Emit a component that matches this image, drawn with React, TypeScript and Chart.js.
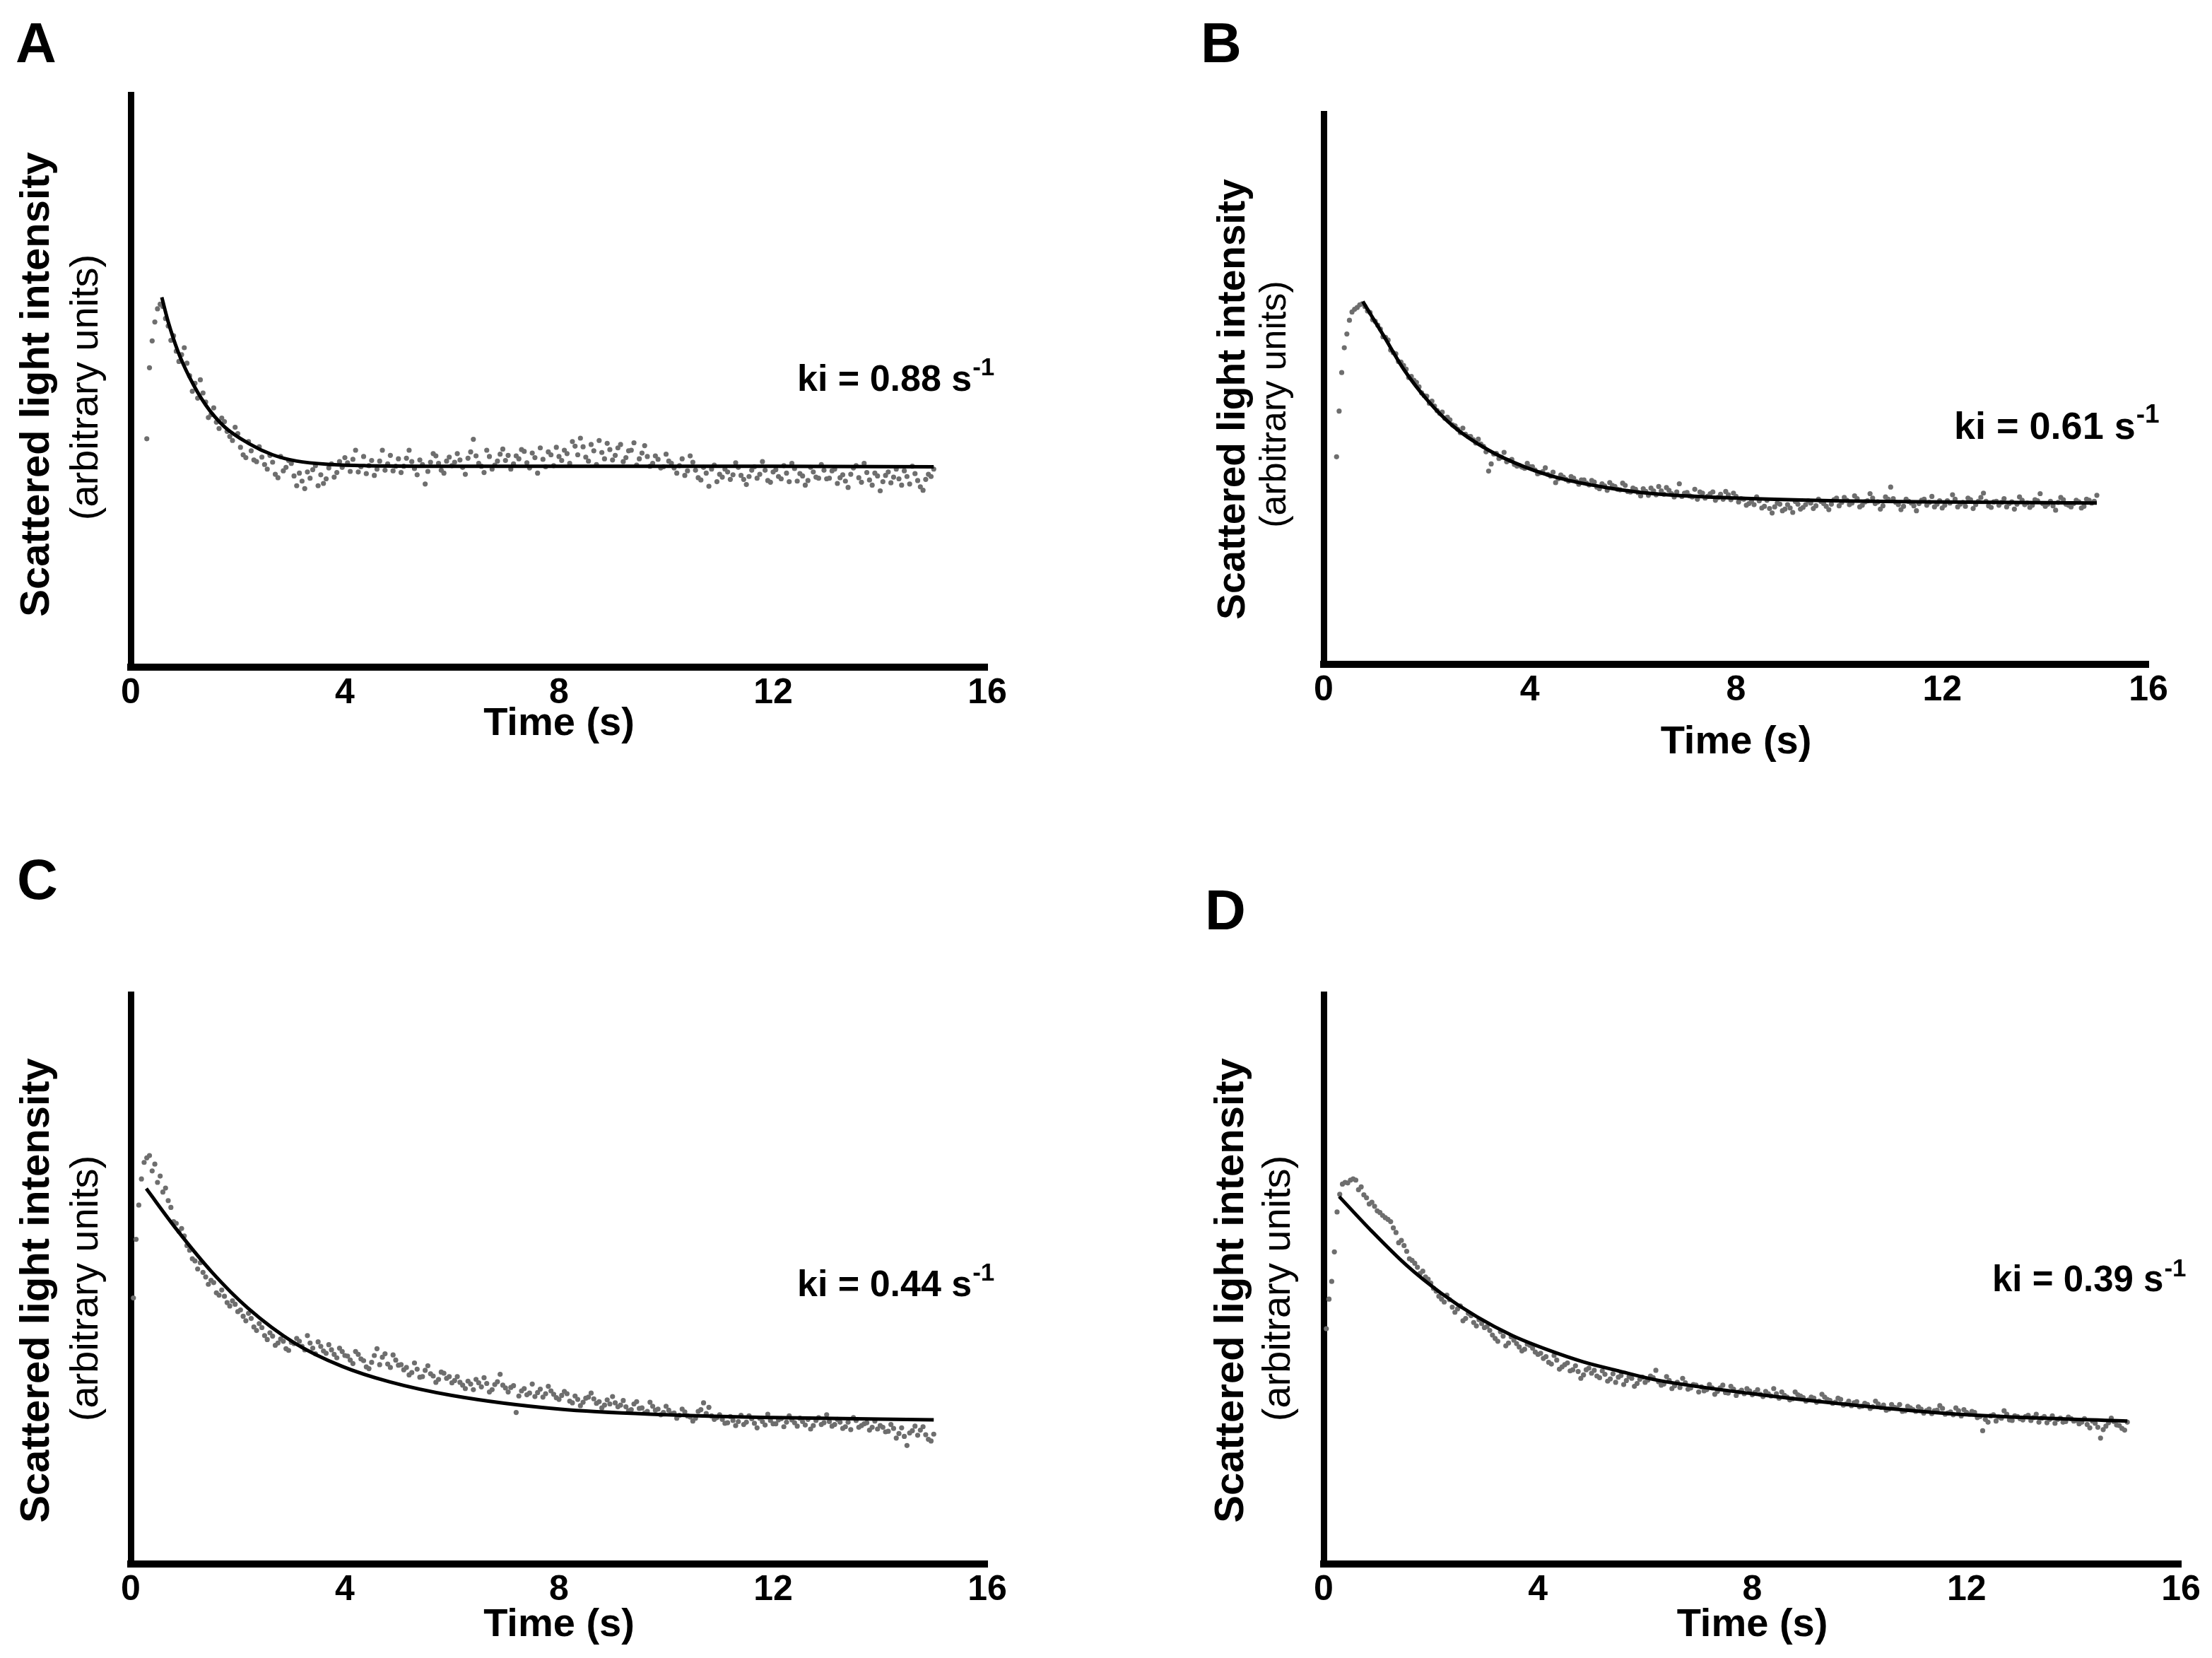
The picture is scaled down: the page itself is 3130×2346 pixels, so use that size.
import { useEffect, useRef } from 'react';
import { Chart, registerables } from 'chart.js';

Chart.register(...registerables);

const FONT = "'Liberation Sans', Arial, Helvetica, sans-serif";

// sampling times (s) shared by the four traces
const TIME = [
  0.05, 0.1, 0.15, 0.2, 0.25, 0.3, 0.35, 0.4, 0.45, 0.5, 0.55, 0.6, 0.65, 0.7, 0.75, 0.8, 0.85, 0.9, 0.95, 1.0,
  1.05, 1.1, 1.15, 1.2, 1.25, 1.3, 1.35, 1.4, 1.45, 1.5, 1.55, 1.6, 1.65, 1.7, 1.75, 1.8, 1.85, 1.9, 1.95, 2.0,
  2.05, 2.1, 2.15, 2.2, 2.25, 2.3, 2.35, 2.4, 2.45, 2.5, 2.55, 2.6, 2.65, 2.7, 2.75, 2.8, 2.85, 2.9, 2.95, 3.0,
  3.05, 3.1, 3.15, 3.2, 3.25, 3.3, 3.35, 3.4, 3.45, 3.5, 3.55, 3.6, 3.65, 3.7, 3.75, 3.8, 3.85, 3.9, 3.95, 4.0,
  4.05, 4.1, 4.15, 4.2, 4.25, 4.3, 4.35, 4.4, 4.45, 4.5, 4.55, 4.6, 4.65, 4.7, 4.75, 4.8, 4.85, 4.9, 4.95, 5.0,
  5.05, 5.1, 5.15, 5.2, 5.25, 5.3, 5.35, 5.4, 5.45, 5.5, 5.55, 5.6, 5.65, 5.7, 5.75, 5.8, 5.85, 5.9, 5.95, 6.0,
  6.05, 6.1, 6.15, 6.2, 6.25, 6.3, 6.35, 6.4, 6.45, 6.5, 6.55, 6.6, 6.65, 6.7, 6.75, 6.8, 6.85, 6.9, 6.95, 7.0,
  7.05, 7.1, 7.15, 7.2, 7.25, 7.3, 7.35, 7.4, 7.45, 7.5, 7.55, 7.6, 7.65, 7.7, 7.75, 7.8, 7.85, 7.9, 7.95, 8.0,
  8.05, 8.1, 8.15, 8.2, 8.25, 8.3, 8.35, 8.4, 8.45, 8.5, 8.55, 8.6, 8.65, 8.7, 8.75, 8.8, 8.85, 8.9, 8.95, 9.0,
  9.05, 9.1, 9.15, 9.2, 9.25, 9.3, 9.35, 9.4, 9.45, 9.5, 9.55, 9.6, 9.65, 9.7, 9.75, 9.8, 9.85, 9.9, 9.95, 10.0,
  10.05, 10.1, 10.15, 10.2, 10.25, 10.3, 10.35, 10.4, 10.45, 10.5, 10.55, 10.6, 10.65, 10.7, 10.75, 10.8, 10.85, 10.9, 10.95, 11.0,
  11.05, 11.1, 11.15, 11.2, 11.25, 11.3, 11.35, 11.4, 11.45, 11.5, 11.55, 11.6, 11.65, 11.7, 11.75, 11.8, 11.85, 11.9, 11.95, 12.0,
  12.05, 12.1, 12.15, 12.2, 12.25, 12.3, 12.35, 12.4, 12.45, 12.5, 12.55, 12.6, 12.65, 12.7, 12.75, 12.8, 12.85, 12.9, 12.95, 13.0,
  13.05, 13.1, 13.15, 13.2, 13.25, 13.3, 13.35, 13.4, 13.45, 13.5, 13.55, 13.6, 13.65, 13.7, 13.75, 13.8, 13.85, 13.9, 13.95, 14.0,
  14.05, 14.1, 14.15, 14.2, 14.25, 14.3, 14.35, 14.4, 14.45, 14.5, 14.55, 14.6, 14.65, 14.7, 14.75, 14.8, 14.85, 14.9, 14.95, 15.0,
];

// scattered light (arbitrary units, 0 = x axis, 100 = top of y axis)
const A_SIGNAL = [
  null, null, null, null, null, 39.9, 52.3, 57.0, 60.3, 62.6, 63.4, 63.0, 60.9, 59.6, 57.1, 57.9, 55.2, 53.4, 54.6, 55.8,
  53.1, 50.9, 48.2, 49.6, 47.0, 50.2, 47.9, 46.3, 43.6, 44.1, 45.3, 42.8, 41.7, 43.5, 42.9, 41.2, 40.3, 39.6, 41.9, 40.8,
  38.4, 37.1, 36.6, 39.4, 37.8, 36.2, 35.9, 38.5, 36.7, 35.4, 34.6, 37.0, 35.8, 33.7, 33.1, 36.8, 34.3, 34.9, 36.1, 35.6,
  33.4, 31.7, 33.9, 32.5, 31.2, 34.1, 33.0, 34.5, 35.2, 31.7, 33.6, 32.1, 32.9, 34.8, 35.5, 33.2, 34.0, 35.9, 34.9, 36.6,
  35.7, 34.2, 36.3, 37.9, 34.1, 35.0, 36.8, 33.8, 35.2, 36.1, 33.5, 34.6, 36.0, 37.9, 34.4, 35.5, 37.0, 34.3, 35.1, 36.4,
  34.0, 35.1, 36.5, 37.9, 35.9, 34.7, 33.6, 36.2, 35.4, 32.0, 34.2, 35.8, 37.3, 36.9, 35.6, 34.4, 33.9, 36.0, 36.7, 35.2,
  35.8, 37.3, 36.2, 34.9, 33.7, 36.5, 37.6, 39.8, 36.9, 35.6, 35.1, 34.0, 37.9, 36.8, 34.6, 35.3, 36.0, 37.2, 38.1, 36.1,
  37.0, 34.6, 35.5, 36.9, 36.4, 38.0, 37.7, 35.7, 34.8, 37.4, 36.6, 33.9, 38.3, 36.3, 35.0, 37.6, 37.1, 35.2, 38.4, 36.8,
  36.1, 37.9, 37.3, 35.6, 39.4, 38.6, 37.1, 40.0, 38.5, 36.7, 36.0, 38.9, 37.8, 35.4, 39.6, 37.5, 36.4, 39.1, 38.0, 36.2,
  37.0, 38.3, 38.9, 35.9, 36.6, 37.8, 37.9, 39.2, 35.3, 36.4, 37.4, 38.7, 36.8, 35.1, 35.6, 36.9, 36.3, 34.8, 35.0, 37.2,
  36.0, 35.6, 34.8, 33.9, 35.2, 36.4, 33.5, 34.3, 36.9, 35.8, 34.4, 33.1, 32.7, 34.9, 33.9, 31.6, 34.6, 35.3, 32.4, 33.7,
  33.2, 34.6, 34.1, 32.8, 33.6, 35.7, 34.9, 33.5, 32.8, 31.9, 33.3, 34.4, 35.0, 33.0, 33.7, 35.9, 34.4, 32.6, 32.3, 34.1,
  34.5, 33.3, 32.9, 35.2, 33.9, 32.4, 35.6, 34.7, 32.5, 33.8, 33.4, 31.8, 32.6, 34.9, 34.1, 33.2, 33.0, 35.4, 34.4, 32.9,
  33.0, 34.3, 34.6, 32.1, 33.1, 33.6, 32.5, 31.4, 33.7, 34.8, 35.2, 33.1, 32.3, 35.6, 34.0, 32.7, 31.8, 33.9, 33.4, 30.8,
  32.4, 33.5, 34.1, 32.2, 33.2, 34.6, 32.9, 31.8, 34.3, 33.3, 32.0, 35.1, 33.8, 32.6, 31.5, 30.9, 32.8, 33.7, 33.3, 34.6,
];

const B_SIGNAL = [
  null, null, null, null, 37.7, 46.0, 53.0, 57.5, 60.0, 62.5, 64.0, 64.5, 64.8, 65.3, 65.5, 65.0, 64.2, 63.9, 62.6, 62.3,
  61.6, 60.9, 59.5, 59.4, 58.9, 57.1, 56.6, 56.4, 55.0, 54.9, 54.3, 53.6, 52.1, 52.3, 51.6, 51.2, 50.4, 49.3, 48.8, 48.7,
  47.4, 47.8, 46.9, 46.1, 45.6, 45.8, 44.7, 44.9, 44.4, 43.5, 43.3, 42.7, 42.1, 42.9, 41.8, 41.4, 41.4, 40.8, 40.2, 40.9,
  40.0, 39.6, 38.6, 35.1, 36.4, 38.2, 38.3, 37.4, 37.6, 38.5, 36.8, 37.0, 37.2, 36.3, 36.0, 36.1, 35.8, 35.6, 36.5, 35.9,
  35.9, 35.3, 34.6, 34.8, 35.0, 35.7, 34.5, 34.2, 34.9, 33.0, 33.7, 34.4, 34.0, 33.6, 33.3, 34.1, 33.8, 33.2, 32.7, 33.5,
  33.5, 32.9, 32.6, 33.4, 33.1, 32.2, 31.9, 32.8, 32.4, 31.6, 33.0, 32.5, 32.3, 31.8, 31.7, 32.9, 32.5, 31.4, 31.3, 32.0,
  31.8, 31.2, 30.6, 31.9, 31.4, 30.7, 32.0, 31.5, 30.8, 32.3, 31.5, 30.9, 32.1, 31.6, 31.0, 30.4, 31.3, 32.8, 30.5, 31.1,
  31.2, 30.6, 30.4, 31.8, 30.0, 31.3, 31.1, 30.2, 30.5, 31.0, 31.3, 29.8, 30.3, 30.9, 30.0, 31.4, 30.8, 29.9, 31.1, 30.5,
  29.5, 30.1, 30.0, 28.9, 29.2, 29.6, 29.0, 30.4, 29.7, 28.4, 28.7, 29.8, 28.3, 27.5, 28.6, 29.3, 29.1, 27.9, 28.2, 29.0,
  28.4, 27.6, 29.6, 29.1, 28.2, 28.5, 29.0, 29.7, 29.3, 28.3, 28.8, 30.0, 29.6, 29.2, 28.7, 28.1, 29.1, 29.9, 30.2, 28.8,
  29.4, 30.3, 29.8, 29.0, 29.3, 30.6, 30.1, 28.6, 28.9, 29.5, 29.7, 31.0, 30.2, 29.2, 29.5, 28.2, 28.8, 30.4, 30.0, 32.2,
  30.1, 29.4, 29.0, 28.1, 28.7, 30.0, 29.6, 29.3, 28.8, 27.9, 29.2, 29.8, 30.0, 28.9, 29.4, 30.5, 28.6, 29.1, 29.7, 28.4,
  28.9, 29.7, 29.3, 30.8, 30.0, 28.6, 29.1, 29.4, 28.7, 30.2, 29.9, 28.3, 29.0, 29.6, 30.3, 31.1, 29.6, 28.8, 28.5, 29.5,
  29.6, 28.9, 29.4, 30.1, 28.6, 29.2, 29.5, 28.2, 29.1, 30.4, 29.8, 29.0, 29.3, 28.5, 28.9, 29.9, 29.7, 31.0, 29.2, 28.7,
  29.1, 29.6, 28.8, 28.0, 29.4, 30.3, 29.9, 29.1, 28.9, 28.6, 29.2, 29.8, 29.5, 28.4, 28.7, 30.0, 29.8, 29.3, 29.6, 30.7,
];

const C_SIGNAL = [
  46.7, 57.0, 63.0, 67.6, 70.5, 71.3, 71.7, 69.0, 70.2, 67.0, 68.1, 65.3, 66.0, 63.8, 62.6, 60.1, 59.8, 58.4, 58.9, 57.6,
  55.9, 55.1, 53.6, 53.2, 51.8, 52.9, 51.2, 50.4, 49.1, 49.8, 49.4, 47.6, 47.2, 48.1, 47.0, 45.9, 45.3, 46.2, 45.6, 44.3,
  44.6, 43.5, 42.7, 44.0, 43.1, 41.6, 41.0, 42.2, 41.5, 40.1, 39.4, 40.6, 40.0, 38.4, 38.8, 39.5, 39.1, 37.8, 37.5, 38.9,
  38.7, 39.6, 39.1, 38.2, 37.6, 40.1, 38.8, 37.9, 36.9, 39.0, 38.2, 37.4, 37.0, 38.5, 37.6, 36.8, 36.2, 37.9, 37.3, 36.6,
  36.5, 35.8, 35.2, 37.3, 36.8, 36.0, 35.7, 34.6, 34.3, 35.4, 36.6, 37.8, 35.0, 36.3, 36.9, 35.1, 34.5, 36.7, 35.8, 34.9,
  35.0, 34.1, 34.5, 33.2, 33.6, 35.3, 34.2, 32.8, 32.9, 34.0, 34.8, 33.4, 33.0, 31.9, 32.4, 33.7, 33.5, 32.6, 32.9, 31.8,
  32.2, 32.9, 31.9, 31.4, 30.8, 32.1, 31.6, 30.6, 32.4, 31.8, 31.1, 32.7, 31.7, 30.2, 30.6, 31.5, 32.0, 33.3, 31.4, 30.9,
  30.2, 31.0, 31.3, 26.6, 29.5, 30.4, 30.8, 29.7, 30.0, 31.6, 29.4, 30.1, 30.7, 29.3, 29.9, 31.2, 30.4, 29.8, 29.2, 28.9,
  29.6, 30.3, 29.9, 28.6, 28.3, 29.5, 28.9, 27.8, 28.4, 29.1, 29.3, 30.0, 29.0, 28.2, 28.5, 27.4, 27.9, 28.8, 28.1, 29.4,
  28.3, 27.6, 27.9, 28.7, 27.6, 26.9, 27.1, 28.1, 28.5, 27.3, 27.4, 26.5, 26.8, 28.4, 27.7, 27.0, 27.2, 26.2, 26.6, 27.7,
  27.0, 26.4, 26.5, 25.6, 26.1, 27.2, 26.7, 26.0, 25.8, 25.1, 25.6, 26.8, 27.1, 28.3, 26.4, 27.5, 26.0, 25.4, 25.7, 26.2,
  25.4, 24.7, 24.8, 25.9, 25.2, 24.3, 25.0, 26.1, 24.5, 24.9, 26.0, 25.5, 24.7, 23.9, 25.6, 25.0, 24.4, 26.3, 25.2, 24.6,
  24.6, 25.3, 25.5, 24.1, 24.9, 26.0, 25.3, 24.8, 24.2, 25.6, 25.0, 24.4, 25.4, 23.7, 24.3, 25.2, 25.7, 24.5, 24.8, 26.2,
  25.0, 24.2, 24.5, 25.4, 24.9, 23.8, 24.1, 24.9, 23.6, 25.7, 25.2, 24.0, 24.3, 24.6, 24.8, 23.5, 24.0, 25.1, 23.7, 24.3,
  24.0, 23.2, 23.3, 24.5, 23.8, 22.1, 22.9, 23.9, 22.4, 20.8, 23.0, 23.4, 24.2, 22.6, 23.5, 24.1, 22.7, 21.9, 21.6, 22.8,
];

const D_SIGNAL = [
  41.3, 46.5, 49.6, 54.8, 61.8, 64.9, 66.7, 67.0, 66.9, 67.4, 67.6, 67.4, 65.7, 66.2, 64.8, 64.3, 63.2, 63.5, 62.8, 62.0,
  61.7, 61.2, 60.8, 60.5, 60.1, 59.0, 58.2, 56.4, 56.8, 55.9, 54.9, 53.6, 53.3, 52.8, 52.1, 51.0, 51.4, 50.4, 50.0, 49.3,
  48.4, 47.9, 47.0, 46.5, 46.0, 47.2, 46.4, 45.1, 44.2, 44.8, 45.3, 42.7, 43.1, 44.0, 43.6, 42.4, 41.8, 42.9, 42.2, 41.5,
  41.7, 41.0, 40.2, 39.6, 39.1, 40.8, 40.0, 38.3, 38.8, 39.9, 39.3, 38.7, 38.1, 37.4, 37.7, 38.6, 38.4, 37.9, 37.2, 36.8,
  37.0, 36.1, 36.4, 35.4, 35.1, 36.6, 35.8, 34.2, 34.6, 35.0, 35.3, 33.9, 34.1, 34.8, 33.8, 32.6, 33.2, 34.1, 34.4, 33.5,
  34.0, 33.0, 32.7, 33.9, 33.3, 32.1, 32.5, 33.4, 31.9, 32.8, 33.1, 31.5, 32.2, 32.9, 32.6, 31.2, 31.7, 32.4, 32.8, 31.9,
  32.3, 33.0, 32.7, 34.0, 32.0, 31.4, 31.6, 32.9, 32.2, 30.8, 31.3, 31.9, 31.0, 32.6, 31.8, 30.7, 30.9, 31.5, 31.4, 30.2,
  31.1, 30.4, 30.6, 31.5, 30.9, 29.8, 30.3, 30.9, 31.4, 30.1, 30.0, 31.2, 30.7, 29.6, 30.2, 30.5, 29.9, 30.8, 30.4, 29.7,
  30.1, 30.6, 29.8, 29.4, 30.3, 29.9, 29.5, 30.8, 29.9, 29.1, 30.2, 29.6, 29.3, 28.8, 29.0, 30.2, 29.7, 29.5, 29.2, 28.6,
  28.8, 29.3, 29.1, 28.4, 28.6, 29.8, 29.3, 28.9, 28.7, 28.2, 28.4, 29.1, 28.9, 27.9, 28.1, 28.6, 27.8, 28.3, 28.5, 27.6,
  27.7, 28.2, 28.0, 27.3, 27.6, 28.6, 28.1, 27.5, 27.9, 27.0, 27.2, 28.0, 27.5, 27.4, 28.0, 26.8, 26.9, 27.7, 27.4, 27.1,
  26.8, 27.6, 27.2, 26.5, 26.9, 27.2, 26.4, 26.9, 27.0, 27.8, 27.3, 26.3, 26.5, 26.7, 26.2, 27.4, 26.9, 26.0, 27.1, 26.6,
  26.3, 26.8, 26.6, 25.7, 25.9, 23.4, 25.4, 24.9, 26.0, 26.2, 25.1, 25.8, 25.6, 26.9, 26.3, 25.3, 25.2, 26.0, 25.9, 25.5,
  25.3, 25.9, 26.1, 25.2, 25.7, 26.3, 24.9, 25.6, 25.9, 24.8, 25.4, 26.0, 24.7, 25.4, 25.6, 24.9, 25.0, 25.8, 25.5, 25.1,
  25.2, 24.6, 24.9, 25.5, 24.5, 23.9, 25.1, 24.7, 24.0, 22.1, 23.6, 24.2, 24.8, 25.6, 25.0, 24.4, 24.3, 23.8, 23.5, 24.9,
];

// single-exponential fits
const A_FIT_T = [0.58, 0.7, 0.88, 1.1, 1.4, 1.75, 2.2, 2.65, 3.1, 3.75, 4.4, 6.2, 8, 10, 12, 15];
const A_FIT_V = [64.6, 60.3, 55.2, 50.6, 45.8, 42.0, 39.1, 37.1, 36.0, 35.4, 35.2, 35.1, 35.1, 35.1, 35.1, 35.0];
const B_FIT_T = [0.76, 1.15, 1.56, 2.02, 2.52, 3.2, 3.89, 4.58, 5.49, 6.4, 8, 10, 12, 15];
const B_FIT_V = [65.9, 59.9, 53.5, 47.9, 43.2, 38.9, 35.9, 33.8, 32.1, 31.0, 30.2, 29.7, 29.5, 29.3];
const C_FIT_T = [0.29, 0.86, 1.52, 2.18, 3.06, 3.95, 4.83, 6, 8, 10, 12, 15];
const C_FIT_V = [65.9, 58.7, 51.2, 45.0, 38.8, 34.7, 32.0, 29.6, 27.2, 26.2, 25.7, 25.3];
const D_FIT_T = [0.29, 0.88, 1.54, 2.2, 2.86, 3.52, 4.18, 4.84, 5.5, 6.16, 8, 10, 12, 15];
const D_FIT_V = [64.5, 58.6, 52.5, 47.5, 43.4, 40.1, 37.6, 35.5, 33.9, 32.4, 29.9, 27.8, 26.2, 25.1];

const PANEL_LETTERS = ['A', 'B', 'C', 'D'];
const KI_VALUES = ['0.88', '0.61', '0.44', '0.39'];
const X_TICKS = [0, 4, 8, 12, 16];

const CANVAS_W = 1565;
const CANVAS_H = 1173;
const X_AXIS_H = 70;

type Layout = {
  left: number; top: number;
  area: { l: number; r: number; t: number; b: number };
  letter: [number, number];
  yBold: [number, number, number]; // baseline x, center y, size
  yNote: [number, number, number];
  xTitle: [number, number]; // baseline y, size
  ki: [number, number, number]; // x, baseline y, size
};

const LAYOUTS: Layout[] = [
  { left: 0, top: 0, area: { l: 185, r: 1397, t: 134, b: 944 }, letter: [22, 88],
    yBold: [69, 544, 58], yNote: [138, 548, 56], xTitle: [1040, 56], ki: [1128, 553, 52] },
  { left: 1565, top: 0, area: { l: 308, r: 1475, t: 161, b: 940 }, letter: [134, 88],
    yBold: [196, 565, 55], yNote: [254, 572, 52], xTitle: [1066, 56], ki: [1200, 621, 54] },
  { left: 0, top: 1173, area: { l: 185, r: 1397, t: 234, b: 1040 }, letter: [24, 99],
    yBold: [69, 653, 58], yNote: [138, 650, 56], xTitle: [1142, 56], ki: [1128, 661, 52] },
  { left: 1565, top: 1173, area: { l: 308, r: 1521, t: 234, b: 1040 }, letter: [140, 142],
    yBold: [194, 653, 58], yNote: [260, 650, 56], xTitle: [1142, 56], ki: [1254, 654, 51] },
];

const SIGNALS = [A_SIGNAL, B_SIGNAL, C_SIGNAL, D_SIGNAL];
const FITS = [
  [A_FIT_T, A_FIT_V],
  [B_FIT_T, B_FIT_V],
  [C_FIT_T, C_FIT_V],
  [D_FIT_T, D_FIT_V],
];

function textPlugin(idx: number) {
  const p = LAYOUTS[idx];
  return {
    id: 'panelText' + idx,
    afterDraw(chart: Chart) {
      const { ctx, chartArea } = chart;
      ctx.save();
      ctx.fillStyle = '#000';
      ctx.textBaseline = 'alphabetic';

      ctx.textAlign = 'left';
      ctx.font = `bold 80px ${FONT}`;
      ctx.fillText(PANEL_LETTERS[idx], p.letter[0], p.letter[1]);

      // y-axis title, two lines
      ctx.save();
      ctx.translate(p.yBold[0], p.yBold[1]);
      ctx.rotate(-Math.PI / 2);
      ctx.textAlign = 'center';
      ctx.font = `bold ${p.yBold[2]}px ${FONT}`;
      ctx.fillText('Scattered light intensity', 0, 0);
      ctx.restore();

      ctx.save();
      ctx.translate(p.yNote[0], p.yNote[1]);
      ctx.rotate(-Math.PI / 2);
      ctx.textAlign = 'center';
      ctx.font = `${p.yNote[2]}px ${FONT}`;
      ctx.fillText('(arbitrary units)', 0, 0);
      ctx.restore();

      ctx.textAlign = 'center';
      ctx.font = `bold ${p.xTitle[1]}px ${FONT}`;
      ctx.fillText('Time (s)', (chartArea.left + chartArea.right) / 2, p.xTitle[0]);

      // rate constant with superscript
      const [kx, ky, ks] = p.ki;
      const main = `ki = ${KI_VALUES[idx]} s`;
      ctx.textAlign = 'left';
      ctx.font = `bold ${ks}px ${FONT}`;
      ctx.fillText(main, kx, ky);
      const w = ctx.measureText(main).width;
      ctx.font = `bold ${Math.round(ks * 0.68)}px ${FONT}`;
      ctx.fillText('-1', kx + w + 1, ky - ks * 0.42);
      ctx.restore();
    },
  };
}

function Panel({ idx }: { idx: number }) {
  const ref = useRef<HTMLCanvasElement | null>(null);
  const p = LAYOUTS[idx];

  useEffect(() => {
    const ctx = ref.current?.getContext('2d');
    if (!ctx) return;

    const [fitT, fitV] = FITS[idx];
    const signal = SIGNALS[idx];
    const points = TIME.map((t, i) => ({ x: t, y: signal[i] })).filter((d) => d.y !== null && d.y !== undefined);
    const fit = fitT.map((t, i) => ({ x: t, y: fitV[i] }));

    const chart = new Chart(ctx, {
      type: 'scatter',
      data: {
        datasets: [
          {
            type: 'line',
            data: fit,
            borderColor: '#000',
            borderWidth: 5,
            pointRadius: 0,
            cubicInterpolationMode: 'monotone',
            fill: false,
          } as any,
          {
            type: 'scatter',
            data: points as any,
            backgroundColor: '#6e6e6e',
            borderColor: '#6e6e6e',
            borderWidth: 0,
            pointRadius: 3.6,
          },
        ],
      },
      options: {
        animation: false,
        responsive: false,
        devicePixelRatio: 1,
        layout: {
          padding: {
            left: p.area.l,
            right: CANVAS_W - p.area.r,
            top: p.area.t,
            bottom: CANVAS_H - p.area.b - X_AXIS_H,
          },
        },
        plugins: {
          legend: { display: false },
          tooltip: { enabled: false },
          title: { display: false },
        },
        scales: {
          x: {
            type: 'linear',
            min: 0,
            max: 16,
            afterBuildTicks: (s: any) => {
              s.ticks = X_TICKS.map((v) => ({ value: v }));
            },
            ticks: {
              color: '#000',
              padding: 2,
              maxRotation: 0,
              font: { family: FONT, size: 50, weight: 'bold' },
            },
            grid: {
              drawOnChartArea: false,
              drawTicks: true,
              tickLength: 5,
              tickWidth: 8,
              tickColor: '#000',
              color: '#000',
            },
            border: { display: true, width: 10, color: '#000' },
            afterFit: (s: any) => {
              s.height = X_AXIS_H;
            },
          },
          y: {
            type: 'linear',
            min: 0,
            max: 100,
            ticks: { display: false },
            grid: { display: false },
            border: { display: true, width: 9, color: '#000' },
            afterFit: (s: any) => {
              s.width = 0;
            },
          },
        },
      },
      plugins: [textPlugin(idx)],
    });

    return () => {
      chart.destroy();
    };
  }, [idx]);

  return (
    <canvas
      ref={ref}
      width={CANVAS_W}
      height={CANVAS_H}
      style={{ position: 'absolute', left: p.left, top: p.top, width: CANVAS_W, height: CANVAS_H }}
    />
  );
}

export default function App() {
  return (
    <div
      style={{
        position: 'fixed',
        left: 0,
        top: 0,
        width: 3130,
        height: 2346,
        background: '#fff',
        overflow: 'hidden',
      }}
    >
      {[0, 1, 2, 3].map((i) => (
        <Panel key={i} idx={i} />
      ))}
    </div>
  );
}
